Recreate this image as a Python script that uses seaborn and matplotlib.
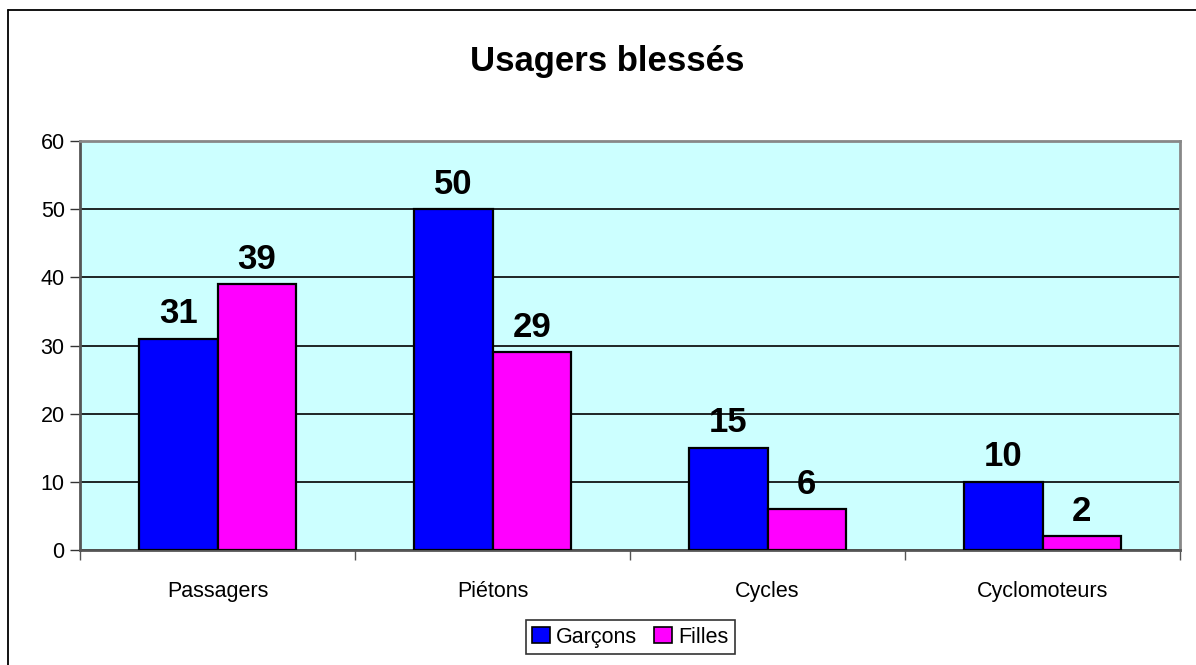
import matplotlib
matplotlib.use('Agg')
import matplotlib.pyplot as plt
import pandas as pd
import seaborn as sns
from matplotlib.lines import Line2D

categories = ["Passagers", "Piétons", "Cycles", "Cyclomoteurs"]
garcons = [31, 50, 15, 10]
filles = [39, 29, 6, 2]
series = ["Garçons", "Filles"]
colors = ["#0000FF", "#FF00FF"]

df = pd.DataFrame({
    "categorie": categories * 2,
    "valeur": garcons + filles,
    "sexe": [series[0]] * len(categories) + [series[1]] * len(categories),
})

sns.set_theme(style="white")
plt.rcParams['font.family'] = ['Liberation Sans', 'DejaVu Sans']
plt.rcParams['text.color'] = "black"
plt.rcParams['xtick.color'] = "black"
plt.rcParams['ytick.color'] = "black"

fig = plt.figure(figsize=(11.96, 6.65), dpi=100)
fig.patch.set_facecolor("#fff")
ax = fig.add_axes([80 / 1196, 115 / 665, 1100 / 1196, 409 / 665])
ax.set_facecolor("#CCFFFF")

sns.barplot(data=df, x="categorie", y="valeur", hue="sexe", order=categories,
            hue_order=series, palette=colors, width=0.57, edgecolor="black",
            linewidth=1.6, saturation=1, ax=ax, zorder=3, legend=False)

for cont in ax.containers:
    ax.bar_label(cont, fontsize=25, fontweight="bold", padding=6, color="black")

ax.set_ylim(0, 60)
ax.set_xlim(-0.5, len(categories) - 0.5)
ax.set_yticks(range(0, 61, 10))
ax.yaxis.grid(True, color="black", linewidth=1.2, zorder=0)
ax.set_axisbelow(True)
ax.tick_params(axis="y", labelsize=15.5, length=7, width=1, color="#333",
               labelcolor="black", left=True, pad=4)
ax.set_xticks(range(len(categories)))
ax.set_xticklabels(categories)
ax.set_xticks([i - 0.5 for i in range(len(categories) + 1)], minor=True)
ax.tick_params(axis="x", which="major", labelsize=15.5, length=0, pad=22, labelcolor="black")
ax.tick_params(axis="x", which="minor", length=7, width=1, color="#555", bottom=True)
ax.set_xlabel("")
ax.set_ylabel("")

for side in ["left", "bottom"]:
    ax.spines[side].set_color("#555")
    ax.spines[side].set_linewidth(2)
for side in ["top", "right"]:
    ax.spines[side].set_color("#888")
    ax.spines[side].set_linewidth(2)

fig.text(0.508, 0.907, "Usagers blessés", ha="center", va="center",
         fontsize=25, fontweight="bold", color="black")

handles = [plt.Rectangle((0, 0), 1, 1, facecolor=c, edgecolor="black", linewidth=1.2)
           for c in colors]
leg = fig.legend(handles, series, loc="center", bbox_to_anchor=(0.527, 0.042), ncol=2,
                 fontsize=15.5, frameon=True, fancybox=False, edgecolor="black",
                 handlelength=0.8, handleheight=0.8, handletextpad=0.3,
                 columnspacing=0.8, borderpad=0.3, borderaxespad=0)
leg.get_frame().set_linewidth(1.2)
for t in leg.get_texts():
    t.set_color("black")

# cadre extérieur (bords gauche et haut visibles)
fig.add_artist(Line2D([7.5 / 1196, 7.5 / 1196], [0, 1 - 9.5 / 665], color="black", linewidth=1.3))
fig.add_artist(Line2D([7.5 / 1196, 1], [1 - 9.5 / 665, 1 - 9.5 / 665], color="black", linewidth=1.3))

fig.savefig("out.png", dpi=100, facecolor="#fff")
